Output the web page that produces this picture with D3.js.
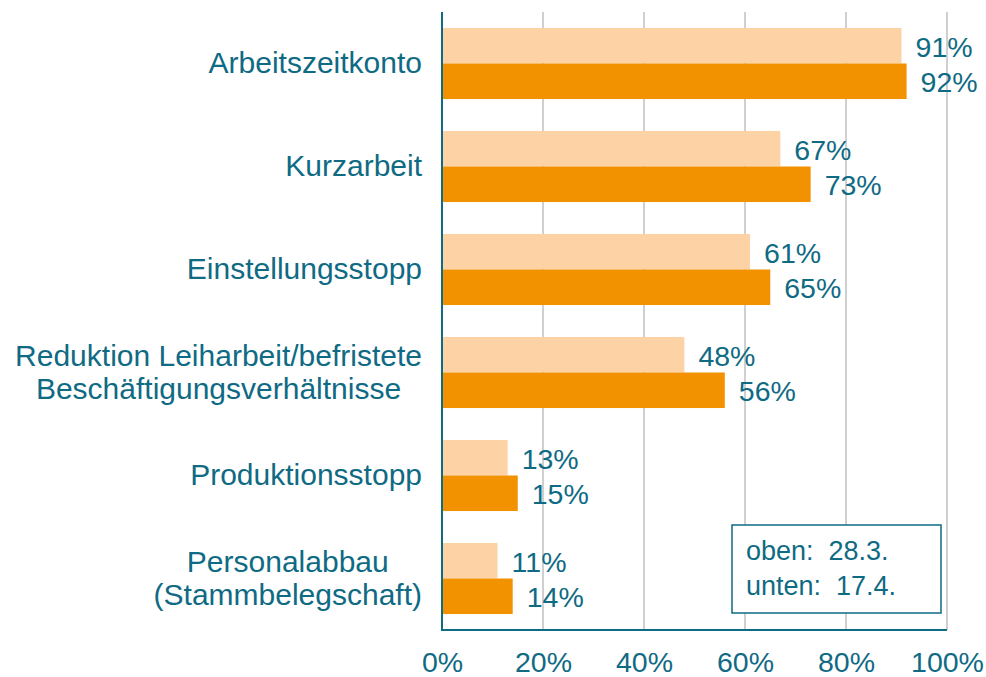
<!DOCTYPE html>
<html lang="de">
<head>
    <meta charset="UTF-8">
    <script src="https://cdnjs.cloudflare.com/ajax/libs/d3/7.8.5/d3.min.js"></script>
    <title>Maßnahmen - gruppierte Balken</title>
    <style>
        body { margin: 0; background: #fff; }
        svg { display: block; font-family: "Liberation Sans", Arial, sans-serif; }
    </style>
</head>
<body>
    <svg width="986" height="677"></svg>
    <script>
        // Werte
        var categories = ["Arbeitszeitkonto", "Kurzarbeit", "Einstellungsstopp",
            "Reduktion Leiharbeit/befristete\nBeschäftigungsverhältnisse",
            "Produktionsstopp", "Personalabbau\n(Stammbelegschaft)"];
        var oben = [91, 67, 61, 48, 13, 11];    // 28.3.
        var unten = [92, 73, 65, 56, 15, 14];   // 17.4.
        var seriesKeys = ["oben", "unten"];
        var xTicks = [0, 20, 40, 60, 80, 100];
        var legendLines = ["oben:  28.3.", "unten:  17.4."];

        var teal = "#0f6a84";
        var colors = { oben: "#fdd3a6", unten: "#f39200" };

        var svg = d3.select("svg");

        var xScale = d3.scaleLinear().domain([0, 100]).range([442, 947]);
        var yScale = d3.scaleBand().domain(categories).range([12, 630])
            .paddingInner(0.31).paddingOuter(0.155);
        var subScale = d3.scaleBand().domain(seriesKeys).range([0, yScale.bandwidth()]);

        // gridlines
        svg.append("g").selectAll("line")
            .data(xTicks.filter(t => t > 0))
            .enter().append("line")
            .attr("x1", d => xScale(d)).attr("x2", d => xScale(d))
            .attr("y1", 12).attr("y2", 630)
            .style("stroke", "#a0a0a0").style("stroke-width", 1);

        var rows = categories.map((c, i) => ({ cat: c, oben: oben[i], unten: unten[i] }));

        var groups = svg.selectAll("g.bar")
            .data(rows)
            .enter().append("g")
            .attr("class", "bar")
            .attr("transform", d => "translate(0," + yScale(d.cat) + ")");

        groups.each(function (d) {
            var g = d3.select(this);
            seriesKeys.forEach(function (k) {
                g.append("rect")
                    .attr("x", xScale(0))
                    .attr("y", subScale(k))
                    .attr("width", xScale(d[k]) - xScale(0))
                    .attr("height", subScale.bandwidth())
                    .style("fill", colors[k]);
                g.append("text")
                    .attr("x", xScale(d[k]) + 14)
                    .attr("y", subScale(k) + subScale.bandwidth() / 2)
                    .attr("dy", "0.38em")
                    .style("font-size", "28.5px")
                    .style("fill", teal)
                    .text(d[k] + "%");
            });
        });

        // axes lines
        svg.append("line")
            .attr("x1", xScale(0)).attr("x2", xScale(0))
            .attr("y1", 12).attr("y2", 631)
            .style("stroke", teal).style("stroke-width", 2);
        svg.append("line")
            .attr("x1", xScale(0) - 1).attr("x2", xScale(100))
            .attr("y1", 630).attr("y2", 630)
            .style("stroke", teal).style("stroke-width", 2);

        var xAxis = d3.axisBottom(xScale).tickValues(xTicks).tickSize(0).tickPadding(0)
            .tickFormat(d => d + "%");
        var xg = svg.append("g").attr("transform", "translate(0,662)").call(xAxis);
        xg.select(".domain").remove();
        xg.selectAll("text")
            .attr("dy", "0.36em")
            .style("font-size", "28.5px")
            .style("font-family", "Liberation Sans, Arial, sans-serif")
            .style("fill", teal);

        // category labels, multi-line centred on each other, right-aligned block
        svg.selectAll("g.cat")
            .data(categories)
            .enter().append("g")
            .attr("class", "cat")
            .each(function (c) {
                var lines = c.split("\n");
                var g = d3.select(this);
                var lh = 33;
                var mid = yScale(c) + yScale.bandwidth() / 2;
                var texts = lines.map(function (l, i) {
                    return g.append("text")
                        .attr("y", mid + (i - (lines.length - 1) / 2) * lh)
                        .attr("dy", "0.33em")
                        .attr("text-anchor", "middle")
                        .style("font-size", "30px")
                        .style("fill", teal)
                        .text(l);
                });
                var maxW = d3.max(texts, t => t.node().getComputedTextLength());
                texts.forEach(t => t.attr("x", 422 - maxW / 2));
            });

        // date box
        var box = svg.append("g").attr("transform", "translate(732,525)");
        box.append("rect")
            .attr("width", 209).attr("height", 88)
            .style("fill", "#fff").style("stroke", teal).style("stroke-width", 1.5);
        box.selectAll("text")
            .data(legendLines)
            .enter().append("text")
            .attr("x", 14)
            .attr("y", (d, i) => 35 + i * 35)
            .style("font-size", "27px")
            .style("white-space", "pre")
            .style("fill", teal)
            .text(d => d);
    </script>
</body>
</html>
